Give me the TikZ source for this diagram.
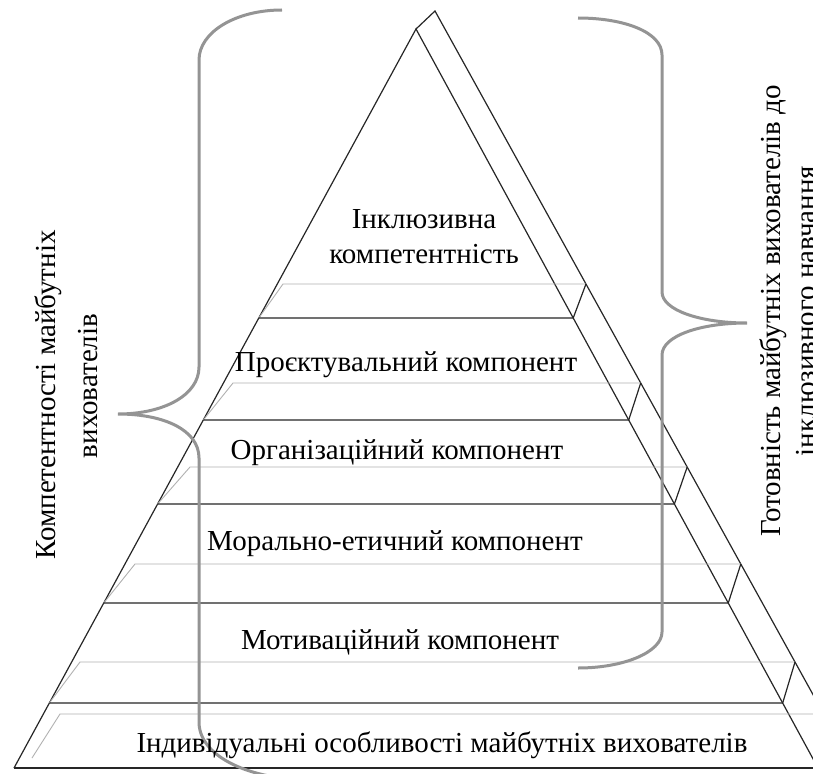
\documentclass[tikz,border=0pt]{standalone}
\usepackage{fontspec}
\setmainfont{Liberation Serif}
\usepackage{tikz}
\tikzset{
  edge/.style={draw=black!85, line width=1.2pt},
  rim/.style={draw=black!30, line width=0.9pt},
  brace/.style={draw=black!42, line width=3pt},
  lbl/.style={font=\fontsize{29}{35}\selectfont, anchor=base, inner sep=0pt},
  sidelbl/.style={lbl, rotate=90},
}

\begin{document}
\begin{tikzpicture}[x=1pt,y=-1pt]
  \clip (0,0) rectangle (813,773);
  \fill[white] (0,0) rectangle (813,773);

  % pyramid, front face and back edge
  \coordinate (F) at (416,29);
  \coordinate (B) at (435,11);
  \draw[edge] (14,768) -- (F) -- (818,768);
  \draw[edge] (F) -- (B) -- (853.6,768);
  \draw[edge] (14,768) -- (830,768);

  % slabs
  \foreach \g/\gl/\d in {284/283/318, 383/233/420, 467/190/504, 564/135/603, 662/80/703}{
    \draw[rim] ({416-0.544*(\d-29)},\d) -- (\gl,\g) -- ({435+0.553*(\g-11)},\g);
    \draw[edge] ({416-0.544*(\d-29)},\d) -- ({416+0.544*(\d-29)},\d) -- ({435+0.553*(\g-11)},\g);
  }
  \draw[rim] (32,758) -- (60,714) -- (830,714);

  % braces
  \draw[brace] (282,10) .. controls (236,10) and (199,32) .. (199,60) -- (199,367)
    .. controls (199,395) and (164,414) .. (118,414)
    .. controls (164,414) and (199,430) .. (199,458) -- (199,722)
    .. controls (199,755) and (245,778) .. (305,780);
  \draw[brace] (578,18) .. controls (624,18) and (662,32) .. (662,55) -- (662,292)
    .. controls (662,310) and (700,323) .. (747,323)
    .. controls (700,323) and (662,336) .. (662,355) -- (662,632)
    .. controls (662,652) and (624,668) .. (578,668);

  % labels
  \node[lbl] (incl1) at (424,228) {Інклюзивна};
  \node[lbl] (incl2) at (424,263) {компетентність};
  \node[lbl] (proj) at (406,371) {Проєктувальний компонент};
  \node[lbl] (org) at (397,459) {Організаційний компонент};
  \node[lbl] (moral) at (395,550) {Морально-етичний компонент};
  \node[lbl] (motiv) at (400,649) {Мотиваційний компонент};
  \node[lbl] (indiv) at (442,752) {Індивідуальні особливості майбутніх вихователів};
  \node[sidelbl] (comp1) at (55,395) {Компетентності майбутніх};
  \node[sidelbl] (comp2) at (97,386) {вихователів};
  \node[sidelbl] (ready1) at (780,311) {Готовність майбутніх вихователів до};
  \node[sidelbl] (ready2) at (815,311) {інклюзивного навчання};
\end{tikzpicture}
\end{document}
